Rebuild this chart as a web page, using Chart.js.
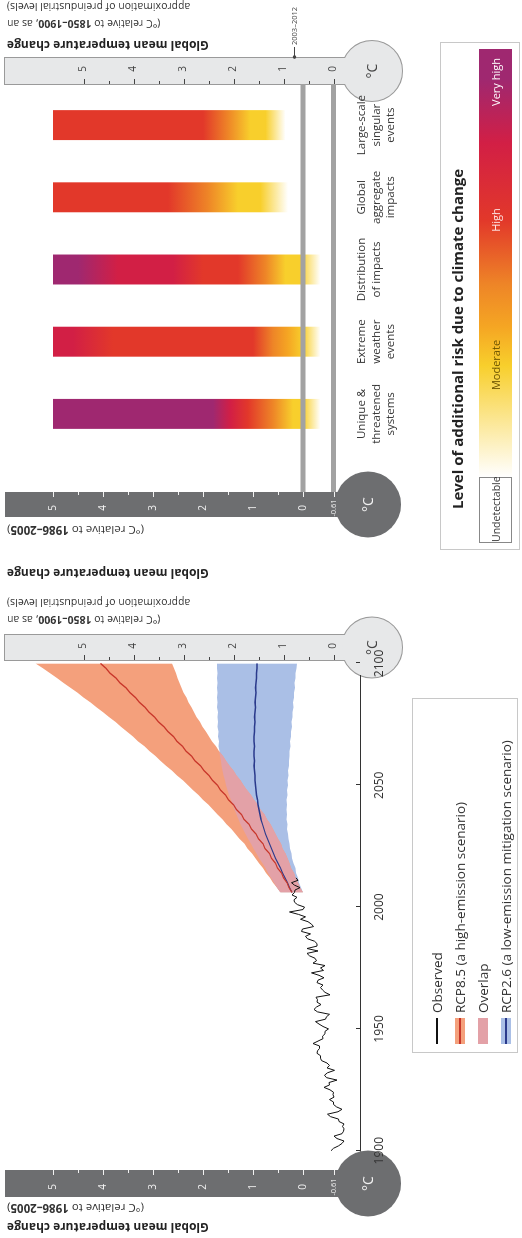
<!DOCTYPE html>
<html>
<head>
<meta charset="utf-8">
<title>Global mean temperature change and level of additional risk</title>
<script src="https://cdn.jsdelivr.net/npm/chart.js@4.4.1/dist/chart.umd.min.js"></script>
<style>
  html, body { margin: 0; padding: 0; background: #fff; }
  body { width: 522px; height: 1238px; overflow: hidden; position: relative; }
  /* the figure is laid out landscape and turned a quarter turn, like the scan */
  #fig { position: absolute; left: 0; top: 0; width: 1238px; height: 522px;
         transform-origin: 0 0; transform: translate(0, 1238px) rotate(-90deg);
         font-family: 'Open Sans', sans-serif; color: #333; }
  #fig canvas { position: absolute; top: 0; }
  .vt { position: absolute; top: 427px; width: 420px; text-align: right; white-space: nowrap;
        transform-origin: 0 0; transform: rotate(-90deg); }
  .ttl { font-weight: bold; font-size: 12px; line-height: 14px; color: #222; }
  .sub { font-size: 11.5px; line-height: 14px; }
  .sub2 { font-size: 10.5px; line-height: 16.5px; }
  #legL { position: absolute; left: 185px; top: 412px; width: 355px; height: 106px;
          border: 1px solid #c8c8c8; box-sizing: border-box; }
  #legL .row { position: absolute; left: 0; height: 18px; font-size: 13.5px; line-height: 18px; white-space: nowrap; }
  #legL .sw { position: absolute; left: 8px; top: 4px; width: 26px; height: 10px; }
  #legL .sw i { position: absolute; left: 0; right: 0; top: 4px; height: 2px; }
  #legL .txt { position: absolute; left: 39px; top: 0; }
  #legR { position: absolute; left: 688px; top: 440px; width: 508px; height: 80px;
          border: 1px solid #c8c8c8; box-sizing: border-box; }
  #legR .head { position: absolute; left: 40px; top: 7px; font-weight: bold; font-size: 15px;
                line-height: 18px; color: #222; white-space: nowrap; }
  #bar { position: absolute; left: 6px; top: 38px; width: 494px; height: 33px; }
  #bar .cell { position: absolute; top: 0; height: 33px; box-sizing: border-box;
               font-size: 10.5px; line-height: 33px; white-space: nowrap; }
  #bar .lab { position: absolute; top: 0; font-size: 11px; line-height: 33px; white-space: nowrap;
              transform: translateX(-50%); }
</style>
</head>
<body>
<div id="fig">
  <canvas id="tempChart" width="640" height="522" style="left:0"></canvas>
  <canvas id="riskChart" width="598" height="522" style="left:640px"></canvas>

  <div class="vt ttl" style="left:4px">Global mean temperature change</div>
  <div class="vt sub" style="left:23px">(°C relative to <b>1986–2005</b>)</div>
  <div class="vt sub2" style="left:610px">(°C relative to <b>1850–1900</b>, as an<br>approximation of preindustrial levels)</div>
  <div class="vt ttl" style="left:658px">Global mean temperature change</div>
  <div class="vt sub" style="left:701px">(°C relative to <b>1986–2005</b>)</div>
  <div class="vt ttl" style="left:1186px">Global mean temperature change</div>
  <div class="vt sub2" style="left:1206px">(°C relative to <b>1850–1900</b>, as an<br>approximation of preindustrial levels)</div>

  <div id="legL"></div>
  <div id="legR">
    <div class="head">Level of additional risk due to climate change</div>
    <div id="bar"></div>
  </div>
</div>

<script>
// ---------- data: °C relative to 1986–2005 ----------
const obsYears = [
  1900, 1901, 1902, 1903, 1904, 1905, 1906, 1907, 1908, 1909,
  1910, 1911, 1912, 1913, 1914, 1915, 1916, 1917, 1918, 1919,
  1920, 1921, 1922, 1923, 1924, 1925, 1926, 1927, 1928, 1929,
  1930, 1931, 1932, 1933, 1934, 1935, 1936, 1937, 1938, 1939,
  1940, 1941, 1942, 1943, 1944, 1945, 1946, 1947, 1948, 1949,
  1950, 1951, 1952, 1953, 1954, 1955, 1956, 1957, 1958, 1959,
  1960, 1961, 1962, 1963, 1964, 1965, 1966, 1967, 1968, 1969,
  1970, 1971, 1972, 1973, 1974, 1975, 1976, 1977, 1978, 1979,
  1980, 1981, 1982, 1983, 1984, 1985, 1986, 1987, 1988, 1989,
  1990, 1991, 1992, 1993, 1994, 1995, 1996, 1997, 1998, 1999,
  2000, 2001, 2002, 2003, 2004, 2005, 2006, 2007, 2008, 2009,
  2010, 2011, 2012
];
const obsValues = [
  -0.56, -0.61, -0.71, -0.78, -0.82, -0.68, -0.62, -0.78, -0.81, -0.82,
  -0.79, -0.82, -0.72, -0.71, -0.55, -0.49, -0.70, -0.78, -0.67, -0.61,
  -0.61, -0.53, -0.62, -0.60, -0.61, -0.54, -0.42, -0.53, -0.52, -0.68,
  -0.47, -0.43, -0.49, -0.63, -0.48, -0.53, -0.48, -0.37, -0.35, -0.35,
  -0.28, -0.29, -0.33, -0.33, -0.20, -0.30, -0.40, -0.39, -0.44, -0.44,
  -0.51, -0.40, -0.32, -0.25, -0.45, -0.47, -0.53, -0.29, -0.22, -0.27,
  -0.36, -0.28, -0.29, -0.26, -0.54, -0.44, -0.39, -0.35, -0.40, -0.28,
  -0.30, -0.42, -0.32, -0.17, -0.41, -0.35, -0.44, -0.20, -0.27, -0.24,
  -0.13, -0.08, -0.30, -0.08, -0.28, -0.28, -0.23, -0.09, -0.05, -0.15,
   0.03,  0.01, -0.21, -0.17, -0.10,  0.05, -0.05,  0.09,  0.27,  0.00,
  -0.03,  0.11,  0.17,  0.18,  0.12,  0.22,  0.17,  0.16,  0.06,  0.17,
   0.23,  0.10,  0.14
];

const projYears = [
  2006, 2008, 2010, 2012, 2014, 2016, 2018, 2020, 2022, 2024,
  2026, 2028, 2030, 2032, 2034, 2036, 2038, 2040, 2042, 2044,
  2046, 2048, 2050, 2052, 2054, 2056, 2058, 2060, 2062, 2064,
  2066, 2068, 2070, 2072, 2074, 2076, 2078, 2080, 2082, 2084,
  2086, 2088, 2090, 2092, 2094, 2096, 2098, 2100
];
const rcp85Mean = [
  0.22, 0.28, 0.32, 0.39, 0.43, 0.51, 0.55, 0.63, 0.67, 0.76,
  0.80, 0.89, 0.94, 1.03, 1.08, 1.18, 1.23, 1.33, 1.39, 1.49,
  1.55, 1.65, 1.71, 1.81, 1.88, 1.98, 2.05, 2.16, 2.23, 2.34,
  2.41, 2.52, 2.59, 2.70, 2.78, 2.89, 2.97, 3.08, 3.16, 3.27,
  3.35, 3.46, 3.54, 3.66, 3.74, 3.86, 3.94, 4.05
];
const rcp85Low = [
  0.00, 0.06, 0.10, 0.15, 0.18, 0.24, 0.27, 0.31, 0.35, 0.41,
  0.44, 0.50, 0.55, 0.60, 0.65, 0.72, 0.77, 0.85, 0.90, 0.98,
  1.04, 1.12, 1.19, 1.25, 1.33, 1.39, 1.47, 1.54, 1.60, 1.68,
  1.74, 1.82, 1.88, 1.94, 2.01, 2.06, 2.13, 2.18, 2.23, 2.29,
  2.33, 2.39, 2.43, 2.47, 2.51, 2.54, 2.58, 2.62
];
const rcp85High = [
  0.45, 0.52, 0.60, 0.66, 0.74, 0.80, 0.88, 0.95, 1.02, 1.11,
  1.17, 1.27, 1.35, 1.43, 1.53, 1.61, 1.71, 1.80, 1.89, 2.00,
  2.09, 2.20, 2.30, 2.40, 2.52, 2.62, 2.74, 2.85, 2.95, 3.07,
  3.17, 3.30, 3.40, 3.52, 3.64, 3.75, 3.88, 4.00, 4.13, 4.25,
  4.39, 4.51, 4.65, 4.79, 4.92, 5.06, 5.20, 5.35
];
const rcp26Mean = [
  0.22, 0.27, 0.31, 0.36, 0.41, 0.45, 0.50, 0.55, 0.59, 0.63,
  0.67, 0.71, 0.75, 0.78, 0.81, 0.84, 0.86, 0.88, 0.90, 0.91,
  0.93, 0.94, 0.95, 0.96, 0.96, 0.97, 0.98, 0.97, 0.98, 0.98,
  0.97, 0.98, 0.98, 0.97, 0.97, 0.96, 0.97, 0.96, 0.95, 0.96,
  0.95, 0.94, 0.95, 0.94, 0.93, 0.93, 0.92, 0.92
];
const rcp26Low = [
  0.00, 0.04, 0.08, 0.10, 0.14, 0.15, 0.19, 0.22, 0.23, 0.26,
  0.27, 0.29, 0.30, 0.32, 0.31, 0.33, 0.32, 0.33, 0.32, 0.33,
  0.31, 0.32, 0.30, 0.31, 0.29, 0.30, 0.28, 0.28, 0.27, 0.27,
  0.25, 0.26, 0.24, 0.24, 0.22, 0.23, 0.21, 0.21, 0.19, 0.20,
  0.18, 0.18, 0.16, 0.17, 0.15, 0.15, 0.13, 0.12
];
const rcp26High = [
  0.45, 0.52, 0.58, 0.64, 0.70, 0.75, 0.81, 0.88, 0.93, 0.99,
  1.04, 1.10, 1.15, 1.20, 1.25, 1.29, 1.33, 1.37, 1.41, 1.44,
  1.48, 1.51, 1.54, 1.56, 1.59, 1.61, 1.63, 1.64, 1.66, 1.67,
  1.69, 1.68, 1.70, 1.69, 1.71, 1.70, 1.71, 1.70, 1.72, 1.71,
  1.72, 1.71, 1.72, 1.71, 1.72, 1.71, 1.72, 1.72
];
const seriesNames = ['Observed', 'RCP8.5 (a high-emission scenario)', 'Overlap', 'RCP2.6 (a low-emission mitigation scenario)'];
const timeTicks = [1900, 1950, 2000, 2050, 2100];

// thermometer scales
const PRE_OFFSET = 0.61;          // 1850–1900 is 0.61 °C below 1986–2005
const thermoMajor = [0, 1, 2, 3, 4, 5];
const thermoMinor = [0.5, 1.5, 2.5, 3.5, 4.5];
const recentMark = { value: 0.78, text: '2003–2012' };   // on the 1850–1900 scale

// reasons for concern: risk level reached at a given temperature (°C rel. 1986–2005)
const rfcLabels = [
  ['Unique &', 'threatened', 'systems'],
  ['Extreme', 'weather', 'events'],
  ['Distribution', 'of impacts'],
  ['Global', 'aggregate', 'impacts'],
  ['Large-scale', 'singular', 'events']
];
const rfcLow  = [-0.61, -0.61, -0.61, -0.61, -0.61];
const rfcHigh = [5, 5, 5, 5, 5];
const rfcLevels = [
  [[-0.35, 0], [0.0, 1], [0.2, 1], [0.6, 1.5], [1.1, 2], [1.45, 2.5], [1.8, 3]],
  [[-0.35, 0], [0.0, 1], [0.3, 1.25], [0.6, 1.5], [1.0, 2], [3.8, 2], [4.6, 2.5]],
  [[-0.35, 0], [0.05, 1], [0.35, 1], [0.75, 1.5], [1.3, 2], [2.0, 2], [2.6, 2.5], [3.7, 2.5], [4.5, 3]],
  [[0.3, 0], [0.85, 1], [1.3, 1], [1.9, 1.5], [2.7, 2]],
  [[0.35, 0], [0.75, 1], [1.05, 1], [1.5, 1.5], [2.0, 2]]
];
const riskLevels = ['Undetectable', 'Moderate', 'High', 'Very high'];

// ---------- styles ----------
const FONT = "'Open Sans', sans-serif";
const C = {
  obs: '#111111', red: '#c8362a', orange: '#f4a07c', navy: '#2a3a8c', blue: '#aabfe6', pink: '#e3a1a7',
  dark: '#6d6e70', light: '#e7e8e9', lightEdge: '#9a9a9a', grayLine: '#a2a2a2'
};
const riskColors = { 0: '#ffffff', 1: '#f8cf2c', 1.25: '#f5a623', 1.5: '#ee8527', 2: '#e2382a', 2.5: '#d21f45', 3: '#9f2870' };
const riskBarPos = { 0: 0, 1: 0.26, 1.25: 0.35, 1.5: 0.45, 2: 0.6, 2.5: 0.78, 3: 0.93 };
const riskLabelStyle = [
  { x: 32, color: '#333' }, { x: 178, color: '#6b5300' }, { x: 323, color: '#fde3e3' }, { x: 461, color: '#ffffff' }
];

const Y_MAX = 5.96, Y_MIN_T = -1.14, Y_MIN_R = -0.74;
const thermoL = {
  dark:  { scale: 'y', x0: 41, x1: 68, top: 5, cx: 54.5, cy: 368, r: 33, fill: C.dark, side: 'right', ink: '#f2f2f2', lx: 51, extra: -PRE_OFFSET },
  light: { scale: 'yPre', x0: 578, x1: 603, top: 5, cx: 590.5, cy: 372, r: 30, fill: C.light, stroke: C.lightEdge, side: 'left', ink: '#444', lx: 592 }
};
const thermoR = {
  dark:  { scale: 'y', x0: 81, x1: 106, top: 5, cx: 93.5, cy: 368, r: 33, fill: C.dark, side: 'right', ink: '#f2f2f2', lx: 90, extra: -PRE_OFFSET },
  light: { scale: 'yPre', x0: 514, x1: 540, top: 5, cx: 527, cy: 372, r: 30, fill: C.light, stroke: C.lightEdge, side: 'left', ink: '#444', lx: 529 }
};

function pts(xs, ys) { return xs.map((x, i) => ({ x: x, y: ys[i] })); }

function drawThermo(chart, t) {
  const ctx = chart.ctx;
  const sc = chart.scales[t.scale];
  const py = v => sc.getPixelForValue(v);
  ctx.save();
  if (t.stroke) {
    ctx.strokeStyle = t.stroke; ctx.lineWidth = 2;
    ctx.strokeRect(t.x0, t.top, t.x1 - t.x0, t.cy - t.top);
    ctx.beginPath(); ctx.arc(t.cx, t.cy, t.r, 0, Math.PI * 2); ctx.stroke();
  }
  ctx.fillStyle = t.fill;
  ctx.fillRect(t.x0, t.top, t.x1 - t.x0, t.cy - t.top);
  ctx.beginPath(); ctx.arc(t.cx, t.cy, t.r, 0, Math.PI * 2); ctx.fill();

  const edge = t.side === 'right' ? t.x1 : t.x0;
  const dir = t.side === 'right' ? -1 : 1;
  ctx.strokeStyle = t.ink; ctx.lineWidth = 1;
  const mark = (v, len) => {
    const y = Math.round(py(v)) + 0.5;
    ctx.beginPath(); ctx.moveTo(edge, y); ctx.lineTo(edge + dir * len, y); ctx.stroke();
  };
  thermoMinor.forEach(v => mark(v, 3));
  thermoMajor.forEach(v => mark(v, 5));
  ctx.fillStyle = t.ink;
  ctx.textAlign = 'center'; ctx.textBaseline = 'middle';
  ctx.font = '10px ' + FONT;
  thermoMajor.forEach(v => ctx.fillText(String(v), t.lx, py(v)));
  if (t.extra) {
    mark(t.extra, 5);
    ctx.font = '7.5px ' + FONT;
    ctx.fillText(String(t.extra), t.lx, py(t.extra));
  }
  ctx.font = '14px ' + FONT;
  ctx.fillText('°C', t.cx, t.cy + 1);
  ctx.restore();
}

// ---------- left panel: time series ----------
const overlapLow = projYears.map((_, i) => Math.max(rcp85Low[i], rcp26Low[i]));
const overlapHigh = projYears.map((_, i) => Math.max(overlapLow[i], Math.min(rcp85High[i], rcp26High[i])));

function band(data, order, fill, color) {
  return { data: data, order: order, fill: fill, backgroundColor: color, borderWidth: 0,
           borderColor: 'rgba(0,0,0,0)', pointRadius: 0 };
}

new Chart(document.getElementById('tempChart'), {
  type: 'line',
  data: {
    datasets: [
      band(pts(projYears, rcp26Low), 9, false, C.blue),
      band(pts(projYears, rcp26High), 8, '-1', C.blue),
      band(pts(projYears, rcp85Low), 7, false, C.orange),
      band(pts(projYears, rcp85High), 6, '-1', C.orange),
      band(pts(projYears, overlapLow), 5, false, C.pink),
      band(pts(projYears, overlapHigh), 4, '-1', C.pink),
      { data: pts(projYears, rcp26Mean), order: 3, borderColor: C.navy, borderWidth: 1.3, pointRadius: 0, fill: false },
      { data: pts(projYears, rcp85Mean), order: 2, borderColor: C.red, borderWidth: 1.3, pointRadius: 0, fill: false },
      { data: pts(obsYears, obsValues), order: 1, borderColor: C.obs, borderWidth: 1, pointRadius: 0, fill: false }
    ]
  },
  options: {
    responsive: false, devicePixelRatio: 1, animation: false, events: [],
    layout: { padding: { left: 69, right: 63, top: 5, bottom: 0 } },
    plugins: { legend: { display: false }, tooltip: { enabled: false } },
    scales: {
      x: {
        type: 'linear', min: 1892.5, max: 2101,
        afterBuildTicks: s => { s.ticks = timeTicks.map(v => ({ value: v })); },
        afterFit: s => { s.height = 162; },
        grid: { display: false },
        border: { display: false },
        ticks: { autoSkip: false, maxRotation: 0, padding: 4, color: '#333',
                 font: { family: FONT, size: 12 }, callback: v => String(v) }
      },
      y: { type: 'linear', min: Y_MIN_T, max: Y_MAX, display: false },
      yPre: { type: 'linear', position: 'right', min: Y_MIN_T + PRE_OFFSET, max: Y_MAX + PRE_OFFSET, display: false }
    }
  },
  plugins: [{
    id: 'thermometersLeft',
    beforeDraw(chart) {
      // thermometers sit under the year labels
      drawThermo(chart, thermoL.dark);
      drawThermo(chart, thermoL.light);
    },
    afterDraw(chart) {
      const ctx = chart.ctx, xs = chart.scales.x, bottom = chart.chartArea.bottom;
      const d = thermoL.dark, l = thermoL.light;
      // time axis runs from bulb to bulb
      const xa = d.cx + Math.sqrt(d.r * d.r - (d.cy - bottom) * (d.cy - bottom));
      const xb = l.cx - Math.sqrt(l.r * l.r - (l.cy - bottom) * (l.cy - bottom));
      ctx.save();
      ctx.strokeStyle = '#333'; ctx.lineWidth = 1;
      ctx.beginPath(); ctx.moveTo(xa, bottom + 0.5); ctx.lineTo(xb, bottom + 0.5); ctx.stroke();
      timeTicks.forEach(v => {
        const x = Math.round(xs.getPixelForValue(v)) + 0.5;
        ctx.beginPath(); ctx.moveTo(x, bottom); ctx.lineTo(x, bottom - 4); ctx.stroke();
      });
      ctx.restore();
    }
  }]
});

// ---------- right panel: risk bars ----------
function riskGradient(c) {
  const chart = c.chart;
  if (!chart.chartArea) return C.light;
  const i = c.dataIndex, ys = chart.scales.y;
  const lo = rfcLow[i], hi = rfcHigh[i];
  const g = chart.ctx.createLinearGradient(0, ys.getPixelForValue(lo), 0, ys.getPixelForValue(hi));
  const lv = rfcLevels[i];
  g.addColorStop(0, riskColors[lv[0][1]]);
  lv.forEach(([t, l]) => g.addColorStop(Math.min(1, Math.max(0, (t - lo) / (hi - lo))), riskColors[l]));
  g.addColorStop(1, riskColors[lv[lv.length - 1][1]]);
  return g;
}

new Chart(document.getElementById('riskChart'), {
  type: 'bar',
  data: {
    labels: rfcLabels,
    datasets: [{
      data: rfcLabels.map((_, i) => [rfcLow[i], rfcHigh[i]]),
      backgroundColor: riskGradient, borderWidth: 0, borderSkipped: false,
      barPercentage: 0.415, categoryPercentage: 1
    }]
  },
  options: {
    responsive: false, devicePixelRatio: 1, animation: false, events: [],
    layout: { padding: { left: 148, right: 89, top: 5, bottom: 0 } },
    plugins: { legend: { display: false }, tooltip: { enabled: false } },
    scales: {
      x: {
        afterFit: s => { s.height = 182; },
        grid: { display: false }, border: { display: false },
        ticks: { autoSkip: false, maxRotation: 0, padding: 7, color: '#333',
                 font: { family: FONT, size: 11.5, lineHeight: 1.25 } }
      },
      y: { type: 'linear', min: Y_MIN_R, max: Y_MAX, display: false },
      yPre: { type: 'linear', position: 'right', min: Y_MIN_R + PRE_OFFSET, max: Y_MAX + PRE_OFFSET, display: false }
    }
  },
  plugins: [{
    id: 'thermometersRight',
    beforeDraw(chart) {
      // thermometers sit under the category labels
      drawThermo(chart, thermoR.dark);
      drawThermo(chart, thermoR.light);
    },
    afterDatasetsDraw(chart) {
      const ctx = chart.ctx;
      ctx.save();
      ctx.strokeStyle = C.grayLine; ctx.lineWidth = 5;
      [chart.scales.y.getPixelForValue(0), chart.scales.yPre.getPixelForValue(0)].forEach(y => {
        ctx.beginPath(); ctx.moveTo(thermoR.dark.x1, y); ctx.lineTo(thermoR.light.x0, y); ctx.stroke();
      });
      ctx.restore();
    },
    afterDraw(chart) {
      const ctx = chart.ctx, y = chart.scales.yPre.getPixelForValue(recentMark.value);
      const x = thermoR.light.x1 + 1;
      ctx.save();
      ctx.fillStyle = '#444'; ctx.strokeStyle = '#444'; ctx.lineWidth = 1;
      ctx.beginPath(); ctx.arc(x, y, 1.8, 0, Math.PI * 2); ctx.fill();
      ctx.beginPath(); ctx.moveTo(x, y); ctx.lineTo(x + 10, y); ctx.stroke();
      ctx.font = '7.5px ' + FONT; ctx.textBaseline = 'middle'; ctx.textAlign = 'left';
      ctx.fillText(recentMark.text, x + 12, y);
      ctx.restore();
    }
  }]
});

// ---------- legends ----------
const legL = document.getElementById('legL');
const swatches = [
  { fill: null, line: C.obs },
  { fill: C.orange, line: C.red },
  { fill: C.pink, line: null },
  { fill: C.blue, line: C.navy }
];
seriesNames.forEach((name, i) => {
  const row = document.createElement('div');
  row.className = 'row';
  row.style.top = (15 + i * 23) + 'px';
  const sw = swatches[i];
  row.innerHTML = '<span class="sw" style="background:' + (sw.fill || 'transparent') + '">' +
    (sw.line ? '<i style="background:' + sw.line + '"></i>' : '') + '</span><span class="txt">' + name + '</span>';
  legL.appendChild(row);
});

const bar = document.getElementById('bar');
const stops = Object.keys(riskColors).map(Number).sort((a, b) => a - b)
  .map(l => riskColors[l] + ' ' + (riskBarPos[l] * 100) + '%').join(', ');
bar.innerHTML =
  '<div class="cell" style="left:0;width:66px;background:#fff;border:1px solid #888;text-align:center;">' + riskLevels[0] + '</div>' +
  '<div class="cell" style="left:66px;width:428px;background:linear-gradient(to right, ' + stops + ')"></div>';
riskLevels.slice(1).forEach((name, k) => {
  const s = riskLabelStyle[k + 1];
  const d = document.createElement('div');
  d.className = 'lab';
  d.style.left = s.x + 'px';
  d.style.color = s.color;
  d.textContent = name;
  bar.appendChild(d);
});
</script>
</body>
</html>
